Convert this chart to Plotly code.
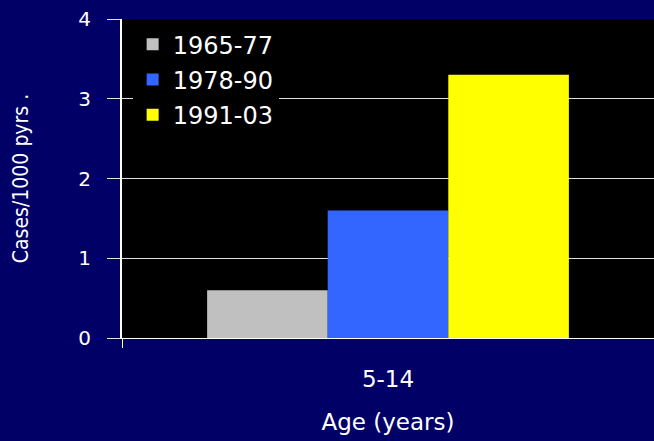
import plotly.graph_objects as go

categories = ["5-14"]
periods = ["1965-77", "1978-90", "1991-03"]
values = [[0.6], [1.6], [3.3]]
colors = ["#c0c0c0", "#3366ff", "#ffff00"]
y_ticks = [0, 1, 2, 3, 4]

fig = go.Figure()
for p, v, c in zip(periods, values, colors):
    fig.add_trace(go.Bar(x=categories, y=v, name=p, legendgroup=p,
                         marker=dict(color=c, line=dict(width=0))))

fig.update_layout(
    width=654, height=441,
    paper_bgcolor="#000066", plot_bgcolor="black",
    margin=dict(l=122, r=0, t=19, b=103),
    barmode="group", bargap=0.32, bargroupgap=0,
    font=dict(family="DejaVu Sans, Arial", color="white", size=20),
    showlegend=True,
    legend=dict(x=0.02, y=0.99, xanchor="left", yanchor="top", bgcolor="black",
                font=dict(size=24), tracegroupgap=1, traceorder="grouped",
                itemwidth=30),
    xaxis=dict(showgrid=False, ticks="outside", tickson="boundaries", ticklen=9,
               tickcolor="white", tickfont=dict(size=23), ticklabelstandoff=20,
               showline=True, linecolor="white", linewidth=1, zeroline=False,
               title=dict(text="Age (years)", font=dict(size=23), standoff=23)),
    yaxis=dict(range=[0, 4], tickvals=y_ticks, gridcolor="#e0e0e0", gridwidth=1,
               ticks="outside", ticklen=13, tickcolor="#e0e0e0",
               tickfont=dict(size=20), ticklabelstandoff=12,
               showline=True, linecolor="white", linewidth=2, zeroline=False,
               title=dict(text="Cases/1000 pyrs .", font=dict(size=21,
                          family="Liberation Sans Narrow, DejaVu Sans Condensed, Arial"),
                          standoff=44)),
)

fig.write_html("out.html", config={"displayModeBar": False},
               post_script="document.body.style.margin='0';")
